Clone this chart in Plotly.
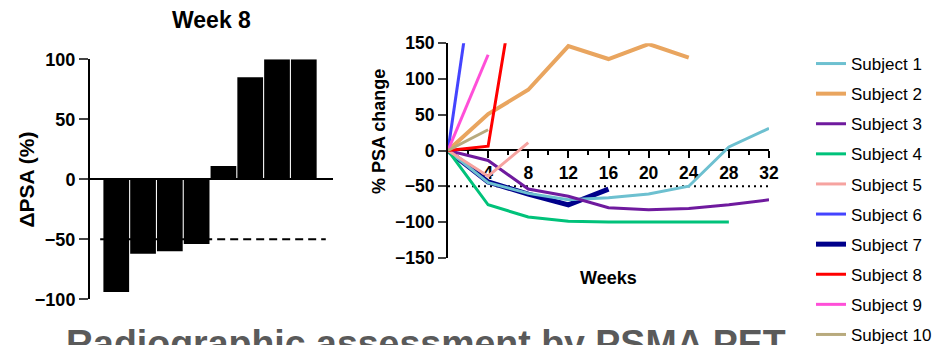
import plotly.graph_objects as go

# ---- Left panel data (Week 8 waterfall) ----
bar_positions = [0, 1, 2, 3, 4, 5, 6, 7]
bar_values = [-94, -62, -60, -54, 11, 85, 100, 100]
bar_threshold = -50
left_ticks = [-100, -50, 0, 50, 100]

# ---- Right panel data (% PSA change over weeks) ----
s1_weeks = [0, 4, 8, 12, 16, 20, 24, 28, 32]
s1_values = [0, -45, -60, -69, -66, -61, -50, 5, 31]
s2_weeks = [0, 4, 8, 12, 16, 20, 24]
s2_values = [0, 51, 85, 146, 128, 149, 130]
s3_weeks = [0, 4, 8, 12, 16, 20, 24, 28, 32]
s3_values = [0, -14, -54, -64, -80, -83, -81, -76, -69]
s4_weeks = [0, 4, 8, 12, 16, 20, 24, 28]
s4_values = [0, -76, -93, -99, -100, -100, -100, -100]
s5_weeks = [0, 4, 8]
s5_values = [0, -36, 11]
s6_weeks = [0, 4]
s6_values = [0, 385]
s7_weeks = [0, 4, 8, 12, 16]
s7_values = [0, -44, -61, -76, -54]
s8_weeks = [0, 4, 8]
s8_values = [0, 6, 345]
s9_weeks = [0, 4]
s9_values = [0, 134]
s10_weeks = [0, 4]
s10_values = [0, 29]

subject_names = ["Subject 1", "Subject 2", "Subject 3", "Subject 4", "Subject 5",
                 "Subject 6", "Subject 7", "Subject 8", "Subject 9", "Subject 10"]
subject_weeks = [s1_weeks, s2_weeks, s3_weeks, s4_weeks, s5_weeks,
                 s6_weeks, s7_weeks, s8_weeks, s9_weeks, s10_weeks]
subject_values = [s1_values, s2_values, s3_values, s4_values, s5_values,
                  s6_values, s7_values, s8_values, s9_values, s10_values]
subject_colors = ["#6DC0D0", "#E9A55F", "#6F1A9E", "#00C27A", "#F6A3A0",
                  "#4444FF", "#00008B", "#FF0000", "#FF4FD8", "#B8AA7D"]
subject_widths = [3, 4, 3, 3, 3, 3, 5, 3, 3, 3]
draw_order = [6, 0, 1, 2, 3, 4, 5, 7, 8, 9]

right_yticks = [-150, -100, -50, 0, 50, 100, 150]
right_xticks = [4, 8, 12, 16, 20, 24, 28, 32]
right_xminor = [2, 6, 10, 14, 18, 22, 26, 30]
psa_threshold = -50

W, H = 936, 345
FONT = "Arial, Liberation Sans, sans-serif"

def px_x(p):
    return p / W

def px_y(p):
    return (H - p) / H

fig = go.Figure()

# Left bars
fig.add_trace(go.Bar(
    x=bar_positions, y=bar_values, marker=dict(color="black", line=dict(width=0)),
    width=0.96, showlegend=False, xaxis="x", yaxis="y"))
fig.add_trace(go.Scatter(
    x=[bar_positions[0] - 0.6, bar_positions[-1] + 0.82], y=[bar_threshold, bar_threshold],
    mode="lines", line=dict(color="black", width=2, dash="8px,5px"),
    showlegend=False, xaxis="x", yaxis="y", hoverinfo="skip"))

# Right threshold
fig.add_trace(go.Scatter(
    x=[0, 32], y=[psa_threshold, psa_threshold], mode="lines",
    line=dict(color="black", width=2, dash="2px,4px"),
    showlegend=False, xaxis="x2", yaxis="y2", hoverinfo="skip"))

for i in draw_order:
    fig.add_trace(go.Scatter(
        x=subject_weeks[i], y=subject_values[i], mode="lines", name=subject_names[i],
        line=dict(color=subject_colors[i], width=subject_widths[i]),
        legendgroup=subject_names[i], legendrank=i + 1,
        xaxis="x2", yaxis="y2"))

tickfont = dict(family=FONT, size=17.5, color="black", weight="bold")
tickfont_left = dict(family=FONT, size=18, color="black", weight="bold")

fig.update_layout(
    width=W, height=H, margin=dict(l=0, r=0, t=0, b=0, autoexpand=False),
    paper_bgcolor="white", plot_bgcolor="white",
    font=dict(family=FONT, color="black"),
    bargap=0.04,
    xaxis=dict(domain=[px_x(90), px_x(333)], range=[-0.98, 8.09],
               showline=False, showticklabels=False, ticks="", showgrid=False,
               zeroline=False, fixedrange=True, automargin=False),
    yaxis=dict(domain=[px_y(299.3), px_y(59.3)], range=[-100, 100],
               tickvals=left_ticks, ticks="outside", ticklen=9, tickwidth=2,
               showline=True, linewidth=2, linecolor="black", showgrid=False,
               zeroline=True, zerolinecolor="black", zerolinewidth=2,
               tickfont=tickfont_left, anchor="x", automargin=False),
    xaxis2=dict(domain=[px_x(448), px_x(769)], range=[0, 32], anchor="free",
                position=px_y(150), tickmode="array", tickvals=right_xticks,
                ticks="outside", ticklen=7, tickwidth=2, tickcolor="black",
                minor=dict(tickmode="array", tickvals=right_xminor, ticks="outside",
                           ticklen=4, tickwidth=2, tickcolor="black"),
                showline=True, linewidth=2, linecolor="black", showgrid=False,
                zeroline=False, tickfont=tickfont, layer="below traces",
                automargin=False),
    yaxis2=dict(domain=[px_y(257.7), px_y(43.3)], range=[-150, 150], anchor="x2",
                tickvals=right_yticks, ticks="outside", ticklen=8, tickwidth=2,
                showline=True, linewidth=2, linecolor="black", showgrid=False,
                zeroline=False, tickfont=tickfont, automargin=False),
    legend=dict(x=px_x(811), y=px_y(46), xanchor="left", yanchor="top",
                maxheight=1000,
                font=dict(family=FONT, size=17, color="black"),
                tracegroupgap=5, traceorder="grouped", bgcolor="rgba(0,0,0,0)"),
    showlegend=True,
)

fig.add_annotation(text="<b>Week 8</b>", xref="x domain", yref="paper", x=0.5,
                   y=px_y(20), xanchor="center", yanchor="middle", showarrow=False,
                   font=dict(family=FONT, size=23, color="black"))
fig.add_annotation(text="<b>ΔPSA (%)</b>", xref="paper", yref="paper", x=px_x(25.5),
                   y=px_y(180), xanchor="center", yanchor="middle", showarrow=False,
                   textangle=-90, font=dict(family=FONT, size=21, color="black"))
fig.add_annotation(text="<b>% PSA change</b>", xref="paper", yref="paper", x=px_x(379),
                   y=px_y(132), xanchor="center", yanchor="middle", showarrow=False,
                   textangle=-90, font=dict(family=FONT, size=18, color="black"))
fig.add_annotation(text="<b>Weeks</b>", xref="x2 domain", yref="paper", x=0.5,
                   y=px_y(278), xanchor="center", yanchor="middle", showarrow=False,
                   font=dict(family=FONT, size=18, color="black"))
fig.add_annotation(text="<b>Radiographic assessment by PSMA PET</b>", xref="paper",
                   yref="paper", x=px_x(64), y=px_y(320), xanchor="left", yanchor="top",
                   showarrow=False, font=dict(family=FONT, size=37.5, color="#5A5A5A"))

fig.write_html("out.html", config={"displayModeBar": False},
               post_script="document.body.style.margin='0';document.body.style.overflow='hidden';")
